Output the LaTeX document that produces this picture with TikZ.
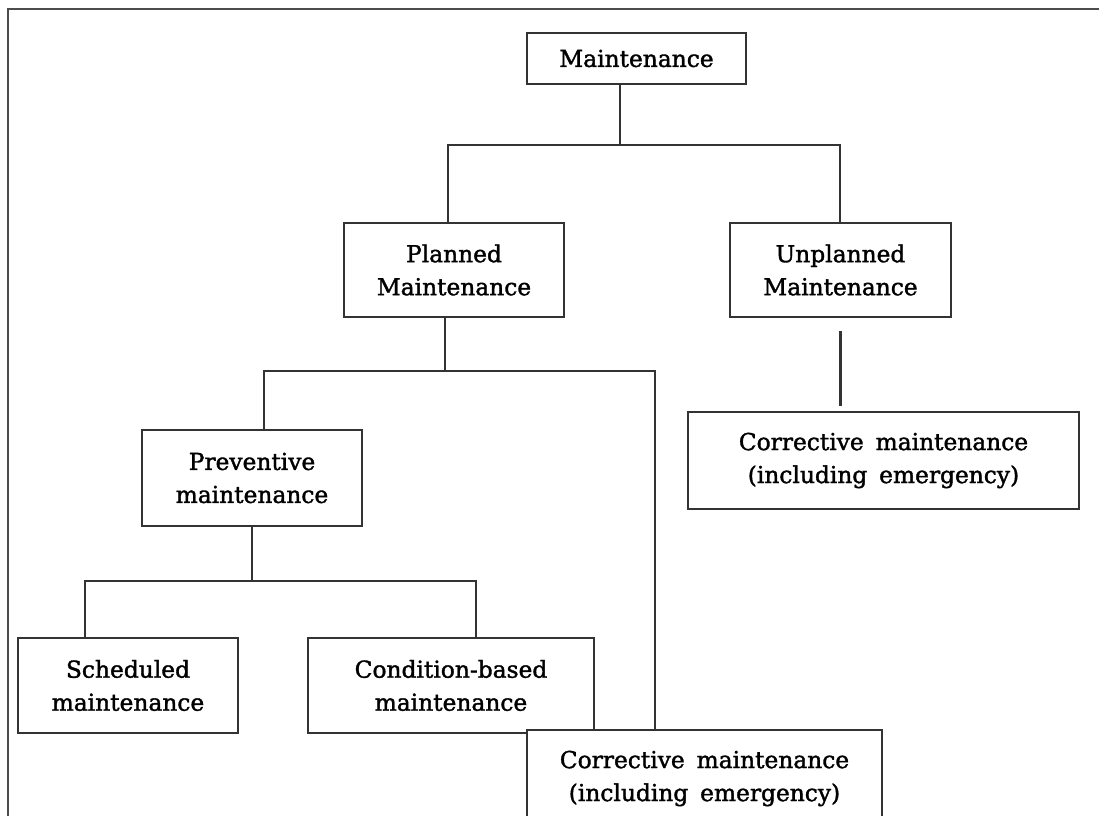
\documentclass[tikz,border=0pt]{standalone}
\usepackage{fontspec}
\setmainfont{DejaVu Serif}[UprightFeatures={FakeBold=1.5}, WordSpace=1.6]
\usepackage{tikz}
\usetikzlibrary{calc}

\tikzset{
  box/.style={draw=black!80, line width=1.7pt, fill=white, align=center, inner sep=0pt,
              font=\fontsize{17.5}{24.75}\selectfont},
  link/.style={draw=black!80, line width=1.7pt}
}

\begin{document}
\begin{tikzpicture}[x=0.75pt,y=-0.75pt]
       \useasboundingbox (0,0) rectangle (1099,816);
       \draw[black!70, line width=1.6pt] (8,816) -- (8,9) -- (1099,9);

       \node[box, minimum width=164pt, minimum height=38pt] (maint) at (636.5,58.5) {Maintenance};
       \node[box, minimum width=165pt, minimum height=70.5pt] (plan) at (454,270) {Planned\\Maintenance};
       \node[box, minimum width=165.5pt, minimum height=70.5pt] (unplan) at (840.5,270) {Unplanned\\Maintenance};
       \node[box, minimum width=293pt, minimum height=73pt] (corrU) at (883.5,460.5) {Corrective maintenance\\(including emergency)};
       \node[box, minimum width=165pt, minimum height=72pt] (prev) at (252,478) {Preventive\\maintenance};
       \node[box, minimum width=165pt, minimum height=71pt] (sched) at (128,685.5) {Scheduled\\maintenance};
       \node[box, minimum width=214.5pt, minimum height=71pt] (cond) at (451,685.5) {Condition-based\\maintenance};

       % junctions
       \coordinate (jm) at (620,145);
       \coordinate (jml) at (448,145);
       \coordinate (jmr) at (840,145);
       \coordinate (jp) at (445,371);
       \coordinate (jpl) at (264,371);
       \coordinate (jpr) at (655,371);
       \coordinate (jv) at (252,581);
       \coordinate (jvl) at (85,581);
       \coordinate (jvr) at (476,581);

       \draw[link] (maint.south -| jm) -- (jm);
       \draw[link] (plan.north -| jml) |- (jmr) -- (unplan.north -| jmr);
       \draw[link] ([yshift=-10pt]unplan.south) -- ([yshift=3.75pt]unplan.south |- corrU.north);

       \draw[link] (plan.south -| jp) -- (jp);
       \draw[link] (prev.north -| jpl) |- (jpr) -- ++(0,359);

       \draw[link] (prev.south) -- (jv);
       \draw[link] (sched.north -| jvl) |- (jvr) -- (cond.north -| jvr);

       \node[box, minimum width=266pt, minimum height=73pt] (corrP) at (704.5,778.5) {Corrective maintenance\\(including emergency)};
\end{tikzpicture}
\end{document}
